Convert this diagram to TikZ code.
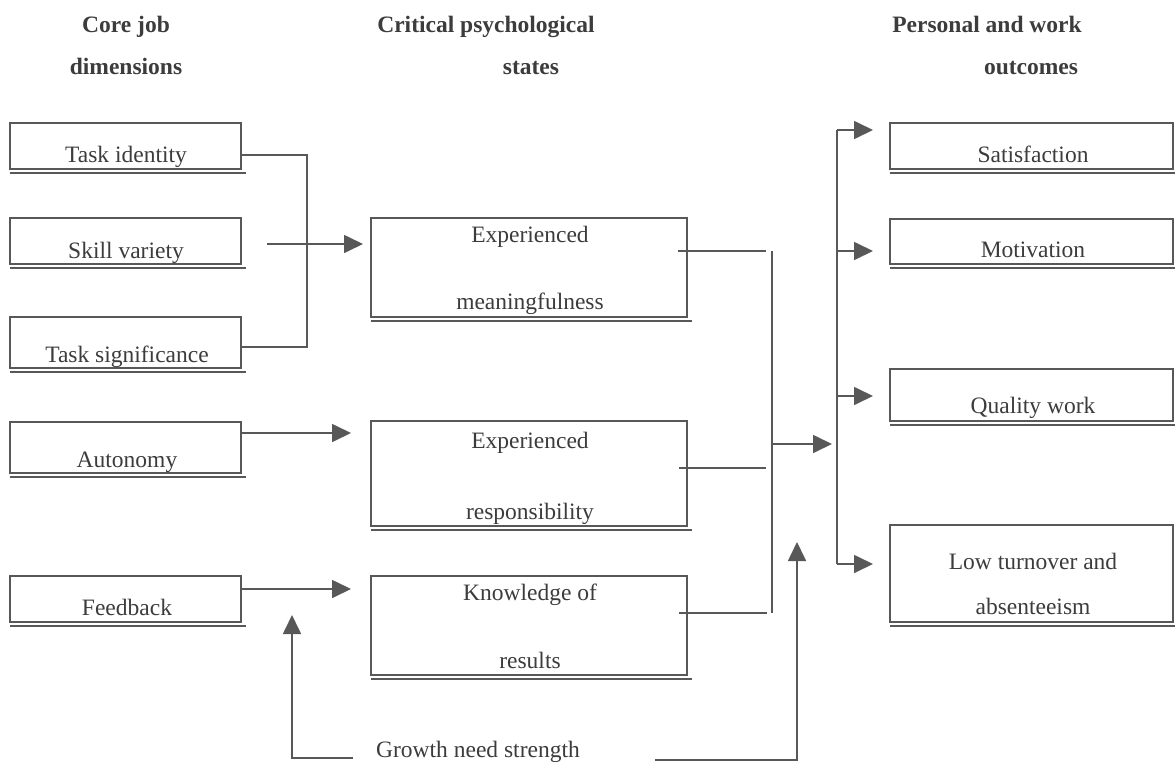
\documentclass[tikz,border=0pt]{standalone}
\usepackage{fontspec}
\setmainfont{Liberation Serif}
\usetikzlibrary{arrows.meta}
\definecolor{ln}{HTML}{585858}
\definecolor{tx}{HTML}{3C3C3C}
\newcommand\dblline[1]{\draw[lnst, line width=2pt] ([yshift=-3.5pt]#1.south west) -- ([xshift=5pt,yshift=-3.5pt]#1.south east);}
\begin{document}
\begin{tikzpicture}[x=1pt,y=-1pt,
  box/.style={draw=ln, line width=1.7pt, inner sep=0pt, outer sep=0pt, anchor=north west},
  lnst/.style={draw=ln, line width=1.7pt},
  arr/.style={lnst, -{Triangle[length=19pt,width=18pt]}},
  txt/.style={text=tx, font=\fontsize{23.5}{28}\selectfont, anchor=base, inner sep=0pt},
  hd/.style={text=tx, font=\fontsize{23.5}{28}\selectfont\bfseries, anchor=base, inner sep=0pt}]
\fill[white] (0,0) rectangle (1175,763);
\useasboundingbox (0,0) rectangle (1175,763);

% headers
\node[hd] (h1)  at (126,32) {Core job};
\node[hd] (h1b) at (126,74) {dimensions};
\node[hd] (h2)  at (486,32) {Critical psychological};
\node[hd] (h2b) at (531,74) {states};
\node[hd] (h3)  at (987,32) {Personal and work};
\node[hd] (h3b) at (1031,74) {outcomes};

% left boxes
\node[box, minimum width=231pt, minimum height=46pt] (ti) at (10,123) {};
\node[box, minimum width=231pt, minimum height=46pt] (sv) at (10,218) {};
\node[box, minimum width=231pt, minimum height=51pt] (ts) at (10,317) {};
\node[box, minimum width=231pt, minimum height=51pt] (au) at (10,422) {};
\node[box, minimum width=231pt, minimum height=46pt] (fb) at (10,576) {};
\foreach \b in {ti,sv,ts,au,fb} {\dblline{\b}}
\node[txt] (tit) at (126,162) {Task identity};
\node[txt] (svt) at (126,258) {Skill variety};
\node[txt] (tst) at (127,362) {Task significance};
\node[txt] (aut) at (127,467) {Autonomy};
\node[txt] (fbt) at (127,615) {Feedback};

% middle boxes
\node[box, minimum width=316pt, minimum height=99pt] (em) at (371,218) {};
\node[box, minimum width=316pt, minimum height=105pt] (er) at (371,421) {};
\node[box, minimum width=316pt, minimum height=99pt] (kr) at (371,576) {};
\foreach \b in {em,er,kr} {\dblline{\b}}
\node[txt] (emt1) at (530,242) {Experienced};
\node[txt] (emt2) at (530,309) {meaningfulness};
\node[txt] (ert1) at (530,448) {Experienced};
\node[txt] (ert2) at (530,519) {responsibility};
\node[txt] (krt1) at (530,600) {Knowledge of};
\node[txt] (krt2) at (530,668) {results};

% right boxes
\node[box, minimum width=283pt, minimum height=46pt] (sa) at (890,123) {};
\node[box, minimum width=283pt, minimum height=45pt] (mo) at (890,219) {};
\node[box, minimum width=283pt, minimum height=52pt] (qw) at (890,369) {};
\node[box, minimum width=283pt, minimum height=97pt] (lt) at (890,525) {};
\foreach \b in {sa,mo,qw,lt} {\dblline{\b}}
\node[txt] (sat) at (1033,162) {Satisfaction};
\node[txt] (mot) at (1033,257) {Motivation};
\node[txt] (qwt) at (1033,413) {Quality work};
\node[txt] (ltt1) at (1033,569) {Low turnover and};
\node[txt] (ltt2) at (1033,614) {absenteeism};

% growth need strength
\node[txt] (gns) at (478,757) {Growth need strength};

% left bracket
\coordinate (b1) at (307,155);
\coordinate (b2) at (307,347);
\draw[lnst] (ti.east |- b1) -- (b1) -- (b2) -- (ts.east |- b2);

% arrows into middle column
\coordinate (svs) at (267,244);
\draw[arr, shorten >=8pt] (svs) -- (em.west |- svs);
\coordinate (ay) at (0,433);
\draw[arr, shorten >=20pt] (au.east |- ay) -- (er.west |- ay);
\coordinate (fy) at (0,589);
\draw[arr, shorten >=20pt] (fb.east |- fy) -- (kr.west |- fy);

% join from middle column
\coordinate (j1) at (766,251);
\coordinate (j2) at (766,468);
\coordinate (j3) at (767,613);
\draw[lnst] (em.east |- j1) ++(-9,0) -- (j1);
\draw[lnst] (er.east |- j2) ++(-8,0) -- (j2);
\draw[lnst] (kr.east |- j3) ++(-8,0) -- (j3);
\coordinate (jt) at (772,251);
\coordinate (jb) at (772,613);
\draw[lnst] (jt) -- (jb);
\coordinate (ja) at (772,444);
\coordinate (jat) at (832,444);
\draw[arr] (ja) -- (jat);

% bus to outcomes
\coordinate (bt) at (837,130);
\coordinate (bm) at (837,251);
\coordinate (bq) at (837,396);
\coordinate (bb) at (837,564);
\draw[lnst] (bt) -- (bb);
\draw[arr, shorten >=17pt] (bt) -- (sa.west |- bt);
\draw[arr, shorten >=17pt] (bm) -- (mo.west |- bm);
\draw[arr, shorten >=17pt] (bq) -- (qw.west |- bq);
\draw[arr, shorten >=17pt] (bb) -- (lt.west |- bb);

% growth need strength arrows
\coordinate (g1) at (353,758);
\coordinate (g2) at (292,758);
\coordinate (g3) at (292,615);
\draw[arr] (g1) -- (g2) -- (g3);
\coordinate (g4) at (655,760);
\coordinate (g5) at (797,760);
\coordinate (g6) at (797,542);
\draw[arr] (g4) -- (g5) -- (g6);
\end{tikzpicture}
\end{document}
